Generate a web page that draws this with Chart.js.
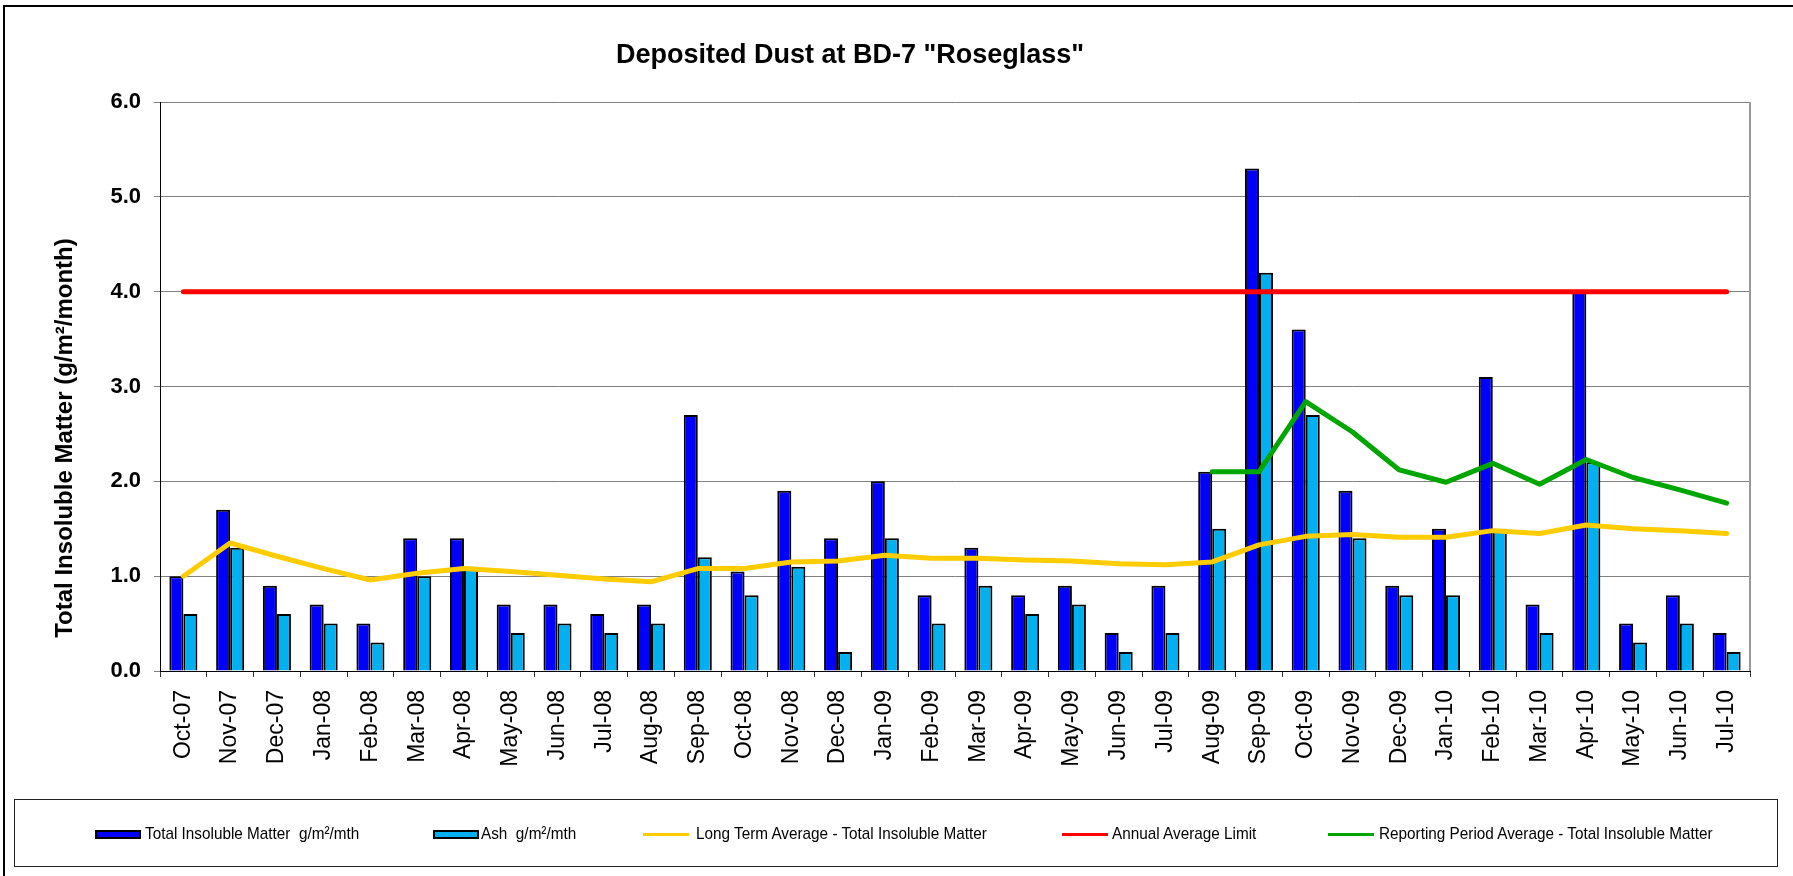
<!DOCTYPE html>
<html>
<head>
<meta charset="utf-8">
<title>Deposited Dust at BD-7 "Roseglass"</title>
<script src="https://cdn.jsdelivr.net/npm/chart.js@4"></script>
<style>
  body { margin: 0; background: #fff; font-family: "Liberation Sans", Arial, sans-serif; }
  #wrap { position: relative; width: 1793px; height: 876px; overflow: hidden; background: #fff; }
  #frame { position: absolute; left: 3px; top: 5px; width: 1810px; height: 900px; border: 2px solid #000; }
  #chart { position: absolute; left: 0; top: 0; }
  #title { position: absolute; left: 0; top: 38px; width: 1700px; text-align: center;
           font-weight: bold; font-size: 27px; line-height: 32px; color: #000; }
  #ytitle { position: absolute; left: -236px; top: 423px; width: 600px; height: 30px; line-height: 30px;
            text-align: center; font-weight: bold; font-size: 24px; color: #000; transform: rotate(-90deg); }
  #legend { position: absolute; left: 14px; top: 799px; width: 1764px; height: 68px;
            border: 1px solid #222; box-sizing: border-box; }
  .swatch { position: absolute; top: 30px; height: 9px; box-sizing: border-box; border: 2px solid #000; }
  .stroke { position: absolute; top: 33px; height: 3px; }
  .label { position: absolute; top: 22px; line-height: 24px; font-size: 17px; white-space: pre;
           transform: scaleX(0.9); transform-origin: left center; color: #000; }
</style>
</head>
<body>
<div id="wrap">
  <div id="frame"></div>
  <canvas id="chart" width="1793" height="876"></canvas>
  <div id="title"></div>
  <div id="ytitle"></div>
  <div id="legend"></div>
</div>
<script>
// chart text
const TITLE = 'Deposited Dust at BD-7 "Roseglass"';
const Y_TITLE = "Total Insoluble Matter (g/m\u00B2/month)";

// monthly samples, Oct-07 .. Jul-10
const MONTHS = [
  "Oct-07", "Nov-07", "Dec-07",
  "Jan-08", "Feb-08", "Mar-08", "Apr-08", "May-08", "Jun-08",
  "Jul-08", "Aug-08", "Sep-08", "Oct-08", "Nov-08", "Dec-08",
  "Jan-09", "Feb-09", "Mar-09", "Apr-09", "May-09", "Jun-09",
  "Jul-09", "Aug-09", "Sep-09", "Oct-09", "Nov-09", "Dec-09",
  "Jan-10", "Feb-10", "Mar-10", "Apr-10", "May-10", "Jun-10", "Jul-10",
];

const TOTAL_INSOLUBLE = [
  1.0, 1.7, 0.9,
  0.7, 0.5, 1.4, 1.4, 0.7, 0.7,
  0.6, 0.7, 2.7, 1.05, 1.9, 1.4,
  2.0, 0.8, 1.3, 0.8, 0.9, 0.4,
  0.9, 2.1, 5.3, 3.6, 1.9, 0.9,
  1.5, 3.1, 0.7, 4.0, 0.5, 0.8, 0.4,
];

const ASH = [
  0.6, 1.3, 0.6,
  0.5, 0.3, 1.0, 1.1, 0.4, 0.5,
  0.4, 0.5, 1.2, 0.8, 1.1, 0.2,
  1.4, 0.5, 0.9, 0.6, 0.7, 0.2,
  0.4, 1.5, 4.2, 2.7, 1.4, 0.8,
  0.8, 1.5, 0.4, 2.2, 0.3, 0.5, 0.2,
];

const LONG_TERM_AVG = [
  1.00, 1.35, 1.21,
  1.08, 0.96, 1.03, 1.08, 1.05, 1.01,
  0.97, 0.94, 1.08, 1.08, 1.15, 1.16,
  1.22, 1.19, 1.19, 1.17, 1.16, 1.13,
  1.12, 1.15, 1.33, 1.42, 1.44, 1.41,
  1.41, 1.48, 1.45, 1.54, 1.50, 1.48, 1.45,
];

const ANNUAL_LIMIT = MONTHS.map(() => 4.0);

const REPORTING_AVG = [
  null, null, null,
  null, null, null, null, null, null,
  null, null, null, null, null, null,
  null, null, null, null, null, null,
  null, 2.10, 2.10, 2.84, 2.52, 2.12,
  1.99, 2.19, 1.97, 2.23, 2.04, 1.91, 1.77,
];

const Y_TICKS = [0, 1, 2, 3, 4, 5, 6];

const SERIES = [
  { name: "Total Insoluble Matter  g/m\u00B2/mth", color: "#0000FF", kind: "bar", data: TOTAL_INSOLUBLE },
  { name: "Ash  g/m\u00B2/mth", color: "#00B0F0", kind: "bar", data: ASH },
  { name: "Long Term Average - Total Insoluble Matter", color: "#FFCC00", kind: "line", data: LONG_TERM_AVG },
  { name: "Annual Average Limit", color: "#FF0000", kind: "line", data: ANNUAL_LIMIT },
  { name: "Reporting Period Average - Total Insoluble Matter", color: "#00A600", kind: "line", data: REPORTING_AVG },
];

const FONT = '"Liberation Sans", Arial, sans-serif';
Chart.defaults.font.family = FONT;
Chart.defaults.color = "#000";

document.getElementById("title").textContent = TITLE;
document.getElementById("ytitle").textContent = Y_TITLE;

const datasets = SERIES.map(s => {
  if (s.kind === "bar") {
    return {
      type: "bar",
      label: s.name,
      data: s.data,
      backgroundColor: s.color,
      borderColor: "#000",
      borderWidth: 2,
      categoryPercentage: 0.6,
      barPercentage: 1.0,
      order: 2,
    };
  }
  return {
    type: "line",
    label: s.name,
    data: s.data,
    borderColor: s.color,
    backgroundColor: s.color,
    borderWidth: 5,
    borderCapStyle: "round",
    borderJoinStyle: "round",
    pointRadius: 0,
    tension: 0,
    fill: false,
    spanGaps: false,
    order: 1,
  };
});

// grey right edge of the plot area, like the excel frame
const plotFrame = {
  id: "plotFrame",
  afterDraw(chart) {
    const { ctx, chartArea } = chart;
    ctx.save();
    ctx.strokeStyle = "#999";
    ctx.lineWidth = 2;
    ctx.beginPath();
    ctx.moveTo(chartArea.right, chartArea.top);
    ctx.lineTo(chartArea.right, chartArea.bottom);
    ctx.stroke();
    ctx.restore();
  },
};

new Chart(document.getElementById("chart"), {
  type: "bar",
  data: { labels: MONTHS, datasets },
  options: {
    responsive: false,
    animation: false,
    layout: { padding: { top: 102, right: 43, bottom: 95, left: 0 } },
    plugins: {
      legend: { display: false },
      title: { display: false },
      tooltip: { enabled: false },
    },
    scales: {
      x: {
        grid: { offset: true, drawOnChartArea: false, drawTicks: true, tickLength: 6, color: "#333" },
        border: { color: "#000", width: 1 },
        ticks: {
          autoSkip: false, minRotation: 90, maxRotation: 90, padding: 13,
          font: { size: 23 }, color: "#000",
        },
        afterFit: s => { s.height = 110; },
      },
      y: {
        min: 0, max: 6,
        afterBuildTicks: s => { s.ticks = Y_TICKS.map(v => ({ value: v })); },
        ticks: {
          padding: 13, color: "#000",
          font: { size: 22, weight: "bold" },
          callback: v => Number(v).toFixed(1),
        },
        grid: { color: "#808080", lineWidth: 1, tickLength: 6 },
        border: { color: "#000", width: 1 },
        afterFit: s => { s.width = 160; },
      },
    },
  },
  plugins: [plotFrame],
});

// legend box below the chart
const LEGEND_POS = [
  { mark: 80, text: 130 },
  { mark: 418, text: 466 },
  { mark: 628, text: 681 },
  { mark: 1047, text: 1097 },
  { mark: 1313, text: 1364 },
];
const legend = document.getElementById("legend");
SERIES.forEach((s, i) => {
  const pos = LEGEND_POS[i];
  const mark = document.createElement("div");
  mark.className = s.kind === "bar" ? "swatch" : "stroke";
  mark.style.background = s.color;
  mark.style.left = pos.mark + "px";
  mark.style.width = "46px";
  legend.appendChild(mark);
  const label = document.createElement("div");
  label.className = "label";
  label.style.left = pos.text + "px";
  label.textContent = s.name;
  legend.appendChild(label);
});
</script>
</body>
</html>
